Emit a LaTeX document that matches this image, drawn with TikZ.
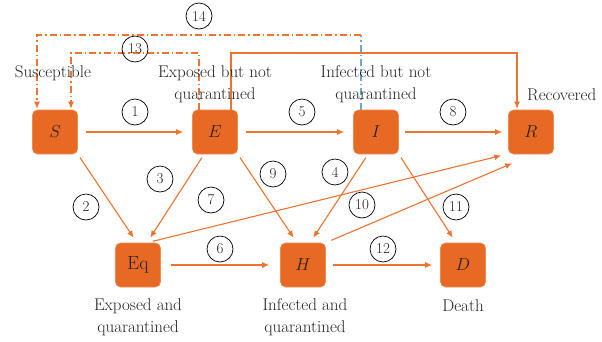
\documentclass[tikz,border=0pt]{standalone}
\usetikzlibrary{arrows.meta,calc}
\definecolor{boxor}{HTML}{E86923}
\definecolor{boxedge}{HTML}{F08A4E}
\definecolor{arror}{HTML}{EC7330}
\definecolor{blued}{HTML}{6AAACF}
\definecolor{txt}{HTML}{222222}
\tikzset{
  stbox/.style={rectangle, rounded corners=5pt, minimum width=45pt, minimum height=44pt,
    fill=boxor, draw=boxedge, line width=0.6pt, text=txt, font=\fontsize{19}{22}\selectfont, inner sep=0pt},
  arr/.style={draw=arror, line width=1.1pt, -{Latex[length=7pt,width=6pt]}},
  dd/.style={line width=1.1pt, dash pattern=on 7pt off 3pt on 1.5pt off 3pt},
  num/.style={circle, draw=black, line width=0.7pt, minimum size=26pt, inner sep=0pt,
    font=\fontsize{15}{15}\selectfont, text=txt},
  lbl/.style={align=center, text=txt, font=\fontsize{17}{22}\selectfont, inner sep=0pt}
}
\begin{document}
\begin{tikzpicture}[x=1pt,y=-1pt]
\useasboundingbox (0,0) rectangle (602,341);
% boxes
\node[stbox] (S) at (55,132) {$S$};
\node[stbox] (E) at (215,132) {$E$};
\node[stbox] (I) at (376,132) {$I$};
\node[stbox] (R) at (531,132) {$R$};
\node[stbox] (Eq) at (138,265) {Eq};
\node[stbox] (H) at (303,265) {$H$};
\node[stbox] (D) at (463,265) {$D$};
% horizontal arrows
\draw[arr, shorten <=8pt, shorten >=9pt] (S) -- (E);
\draw[arr, shorten <=8pt, shorten >=9pt] (E) -- (I);
\draw[arr, shorten <=6pt, shorten >=6pt] (I) -- (R);
\draw[arr, shorten <=10pt, shorten >=11pt] (Eq) -- (H);
\draw[arr, shorten <=7pt, shorten >=8pt] (H) -- (D);
% diagonal arrows
\draw[arr, shorten <=4pt, shorten >=6pt] (S.south east) -- ([xshift=-1pt]Eq.north);
\draw[arr, shorten <=4pt, shorten >=6pt] ([xshift=-11pt]E.south) -- ([xshift=9pt]Eq.north);
\draw[arr, shorten <=4pt, shorten >=6pt] (E.south east) -- ([xshift=-6pt]H.north);
\draw[arr, shorten <=4pt, shorten >=6pt] ([xshift=-8pt]I.south) -- ([xshift=7pt]H.north);
\draw[arr, shorten <=4pt, shorten >=6pt] (I.south east) -- ([xshift=-7pt]D.north);
\draw[arr, shorten <=6pt, shorten >=1pt] ([xshift=9pt]Eq.north) -- ([xshift=-6pt,yshift=-1pt]R.south west);
\draw[arr, shorten <=6pt, shorten >=0pt] (H.north east) -- ([xshift=4pt,yshift=-9pt]R.south west);
% top connectors
\coordinate (t1) at (231,53);
\coordinate (t2) at (517,53);
\draw[arr, shorten >=1pt] ([xshift=16pt]E.north) -- (t1) -- (t2) -- ([xshift=-14pt]R.north);
\coordinate (u1) at (199,53);
\coordinate (u2) at (71,53);
\draw[arr, dd, shorten >=1pt] ([xshift=-16pt]E.north) -- (u1) -- (u2) -- ([xshift=16pt]S.north);
\coordinate (v1) at (361,35);
\coordinate (v2) at (37,35);
\draw[blued, dd] ([xshift=-15pt]I.north) -- (v1);
\draw[arr, dd, shorten >=1pt] (v1) -- (v2) -- ([xshift=-18pt]S.north);
% labels
\node[lbl] (lS) at (53,73) {Susceptible};
\node[lbl] (lE) at (215,84) {Exposed but not\\quarantined};
\node[lbl] (lI) at (376,84) {Infected but not\\quarantined};
\node[lbl, anchor=west] (lR) at (527,95) {Recovered};
\node[lbl] (lEq) at (138,317) {Exposed and\\quarantined};
\node[lbl] (lH) at (305,317) {Infected and\\quarantined};
\node[lbl] (lD) at (463,306) {Death};
% numbers
\node[num] (n1) at (135,112) {1};
\node[num] (n2) at (86,207) {2};
\node[num] (n3) at (160,179) {3};
\node[num] (n4) at (335,172) {4};
\node[num] (n5) at (302,112) {5};
\node[num] (n6) at (220,249) {6};
\node[num] (n7) at (211,200) {7};
\node[num] (n8) at (453,112) {8};
\node[num] (n9) at (273,174) {9};
\node[num] (n10) at (362,205) {10};
\node[num] (n11) at (456,207) {11};
\node[num] (n12) at (383,249) {12};
\node[num] (n13) at (135,49) {13};
\node[num] (n14) at (199,16) {14};
\end{tikzpicture}
\end{document}
